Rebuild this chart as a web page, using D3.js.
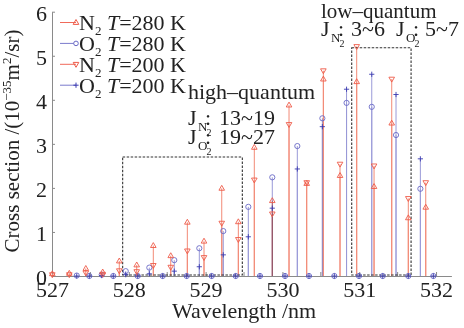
<!DOCTYPE html>
<html>
<head>
<meta charset="utf-8">
<script src="https://cdn.jsdelivr.net/npm/d3@7/dist/d3.min.js"></script>
<style>
    html, body { margin: 0; padding: 0; background: #fff; }
    svg { display: block; font-family: "Liberation Serif", "Times New Roman", serif; }
</style>
</head>
<body>
<div id="chart"></div>
<script>
// N2 rotational Raman lines (nm) and cross sections (1e-35 m^2/sr)
const n2Wavelength = [527.004, 527.225, 527.440, 527.660, 527.876, 528.103, 528.319, 528.546, 528.762, 528.979,
    529.210, 529.426, 529.634, 529.868, 530.086, 530.316, 530.533, 530.750, 530.967, 531.193, 531.423, 531.639, 531.866];
const n2T280 = [0.05, 0.06, 0.17, 0.09, 0.34, 0.25, 0.69, 0.46, 1.22, 0.79,
    1.99, 1.23, 2.92, 1.71, 3.88, 2.10, 4.47, 2.28, 4.41, 2.03, 3.47, 1.32, 1.56];
const n2T200 = [0.03, 0.03, 0.07, 0.04, 0.12, 0.10, 0.24, 0.20, 0.57, 0.42,
    1.20, 0.83, 2.18, 1.41, 3.44, 2.12, 4.66, 2.54, 5.21, 2.50, 4.47, 1.76, 2.12];

// O2 lines (even N are missing -> zero)
const o2Wavelength = [527.322, 527.486, 527.647, 527.798, 527.960, 528.116, 528.267, 528.441, 528.592, 528.754,
    528.918, 529.079, 529.230, 529.392, 529.556, 529.708, 529.868, 530.034, 530.194, 530.346,
    530.520, 530.676, 530.835, 530.997, 531.163, 531.306, 531.479, 531.639, 531.796, 531.965];
const o2T280 = [0.01, 0, 0.03, 0, 0.11, 0, 0.19, 0, 0.36, 0,
    0.63, 0, 1.02, 0, 1.57, 0, 2.24, 0, 2.95, 0,
    3.58, 0, 3.93, 0, 3.84, 0, 3.20, 0, 1.98, 0];
const o2T200 = [0, 0, 0.01, 0, 0.03, 0, 0.05, 0, 0.11, 0,
    0.21, 0, 0.48, 0, 0.89, 0, 1.54, 0, 2.43, 0,
    3.39, 0, 4.24, 0, 4.58, 0, 4.12, 0, 2.66, 0];

const xTicks = [527, 528, 529, 530, 531, 532];
const xMinorTicks = [527.5, 528.5, 529.5, 530.5, 531.5];
const yTicks = [0, 1, 2, 3, 4, 5, 6];

// dashed regions [x0, x1, yTop] in data units
const highBox = [527.92, 529.478, 2.7];
const lowBox = [530.902, 531.675, 5.18];

const W = 464, H = 328;
const red = "#ee5a48", redStem = "#f28a76";
const blue = "#6a6ac6", blueDark = "#3a3ab0", blueStem = "#9a9ad8";

const svg = d3.select("#chart").append("svg")
    .attr("width", W)
    .attr("height", H);

const x = d3.scaleLinear().domain([527, 532.2]).range([52, 451.4]);
const y = d3.scaleLinear().domain([0, 6]).range([276, 11.7]);

// axes
const gx = svg.append("g")
    .attr("transform", "translate(0," + y(0) + ")")
    .call(d3.axisBottom(x).tickValues(xTicks).tickSize(-4).tickSizeOuter(0).tickPadding(5)
        .tickFormat(d3.format("d")));
// half-nm ticks, no labels
svg.append("g")
    .selectAll("line")
    .data(xMinorTicks)
    .enter()
    .append("line")
    .attr("x1", d => x(d)).attr("x2", d => x(d))
    .attr("y1", y(0)).attr("y2", y(0) - 4)
    .attr("stroke", "#8a8a8a");
const gy = svg.append("g")
    .attr("transform", "translate(" + x(527) + ",0)")
    .call(d3.axisLeft(y).tickValues(yTicks).tickSize(-3).tickSizeOuter(0).tickPadding(5)
        .tickFormat(d3.format("d")));
[gx, gy].forEach(g => {
    g.select(".domain").attr("stroke", "#8a8a8a");
    g.selectAll(".tick line").attr("stroke", "#8a8a8a");
    g.selectAll("text").attr("fill", "#222").style("font-size", "22px").style("font-family", "Liberation Serif, serif");
});
gy.selectAll("text").attr("dy", "0.4em");

// stems
const triUp = "M0,-3L2.8,1.9L-2.8,1.9Z";
const triDown = "M0,3L2.8,-1.9L-2.8,-1.9Z";
const plus = "M-2.6,0H2.6M0,-2.6V2.6";

const n2Stems = svg.append("g");
[n2T280, n2T200].forEach(vals => {
    n2Stems.selectAll(null)
        .data(vals)
        .enter()
        .append("line")
        .attr("x1", (d, i) => x(n2Wavelength[i]))
        .attr("x2", (d, i) => x(n2Wavelength[i]))
        .attr("y1", y(0))
        .attr("y2", d => y(d))
        .attr("stroke", redStem)
        .attr("stroke-width", 1);
});
const o2Stems = svg.append("g").style("mix-blend-mode", "multiply");
[o2T280, o2T200].forEach(vals => {
    o2Stems.selectAll(null)
        .data(vals)
        .enter()
        .append("line")
        .attr("x1", (d, i) => x(o2Wavelength[i]))
        .attr("x2", (d, i) => x(o2Wavelength[i]))
        .attr("y1", y(0))
        .attr("y2", d => y(d))
        .attr("stroke", blueStem)
        .attr("stroke-width", 1);
});

// dashed regions
[highBox, lowBox].forEach(b => {
    svg.append("rect")
        .attr("x", x(b[0]))
        .attr("y", y(b[2]))
        .attr("width", x(b[1]) - x(b[0]))
        .attr("height", y(0) - y(b[2]) - 1)
        .attr("fill", "none")
        .attr("stroke", "#333")
        .attr("stroke-width", 1.1)
        .attr("stroke-dasharray", "2.5,1.5");
});

// markers
function markers(wl, vals, path, color, circle) {
    const sel = svg.append("g").selectAll(null)
        .data(vals)
        .enter();
    if (circle) {
        sel.append("circle")
            .attr("cx", (d, i) => x(wl[i]))
            .attr("cy", d => y(d))
            .attr("r", 2.6)
            .attr("fill", "none")
            .attr("stroke", color)
            .attr("stroke-width", 0.9);
    } else {
        sel.append("path")
            .attr("d", path)
            .attr("transform", (d, i) => "translate(" + x(wl[i]) + "," + y(d) + ")")
            .attr("fill", "none")
            .attr("stroke", color)
            .attr("stroke-width", 0.9);
    }
}
markers(o2Wavelength, o2T280, null, blue, true);
markers(o2Wavelength, o2T200, plus, blueDark, false);
markers(n2Wavelength, n2T280, triUp, red, false);
markers(n2Wavelength, n2T200, triDown, red, false);

// axis titles
svg.append("text")
    .attr("x", 244)
    .attr("y", 318)
    .attr("text-anchor", "middle")
    .style("font-size", "22px")
    .attr("fill", "#222")
    .text("Wavelength /nm");

const yl = svg.append("text")
    .attr("transform", "translate(19,141)rotate(-90)")
    .attr("text-anchor", "middle")
    .style("font-size", "21px")
    .attr("fill", "#222");
yl.append("tspan").text("Cross section /(10");
yl.append("tspan").attr("dy", -8).style("font-size", "13px").text("\u221235");
yl.append("tspan").attr("dy", 8).text("m");
yl.append("tspan").attr("dy", -8).style("font-size", "13px").text("2");
yl.append("tspan").attr("dy", 8).text("/sr)");

// legend
const legendRows = [
    { name: "N", temp: "=280 K", color: red, line: "#f06a5a", path: triUp },
    { name: "O", temp: "=280 K", color: blue, line: "#7a7acc", circle: true },
    { name: "N", temp: "=200 K", color: red, line: "#f06a5a", path: triDown },
    { name: "O", temp: "=200 K", color: blueDark, line: "#7a7acc", path: plus }
];
legendRows.forEach((r, i) => {
    const ly = 22.5 + i * 20.9;
    svg.append("line")
        .attr("x1", 60).attr("x2", 76)
        .attr("y1", ly).attr("y2", ly)
        .attr("stroke", r.line);
    if (r.circle) {
        svg.append("circle").attr("cx", 76).attr("cy", ly).attr("r", 2.3)
            .attr("fill", "#fff").attr("stroke", r.color);
    } else {
        svg.append("path").attr("d", r.path)
            .attr("transform", "translate(76," + ly + ")")
            .attr("fill", "none").attr("stroke", r.color);
    }
    const t = svg.append("text")
        .attr("x", 79)
        .attr("y", ly + 7.5)
        .style("font-size", "22px")
        .attr("fill", "#222");
    t.append("tspan").text(r.name);
    t.append("tspan").attr("dy", 5).style("font-size", "13px").text("2");
    t.append("tspan").attr("dy", -5).text(" ");
    t.append("tspan").style("font-style", "italic").text("T");
    t.append("tspan").text(r.temp);
});

// annotations
function note(px, py, str, size) {
    return svg.append("text")
        .attr("x", px).attr("y", py)
        .style("font-size", (size || 22) + "px")
        .attr("fill", "#222")
        .text(str);
}
function jLabel(px, py, letter, range, rangeX) {
    const t = svg.append("text")
        .attr("x", px).attr("y", py)
        .style("font-size", "22px")
        .attr("fill", "#222");
    t.append("tspan").text("J");
    t.append("tspan").attr("x", px + 10).attr("dy", 6).style("font-size", "13px").text(letter);
    t.append("tspan").attr("x", px + 17).attr("dy", -6).text(":");
    t.append("tspan").attr("x", px + 18.5).attr("dy", 11).style("font-size", "10px").text("2");
    t.append("tspan").attr("x", rangeX).attr("dy", -11).text(range);
}
note(188, 98.5, "high\u2013quantum");
jLabel(188, 124.5, "N", "13~19", 219);
jLabel(188, 143.5, "O", "19~27", 219);

note(321, 18, "low\u2013quantum", 21);
jLabel(321, 36, "N", "3~6", 351);
jLabel(396, 36, "O", "5~7", 425);
</script>
</body>
</html>
